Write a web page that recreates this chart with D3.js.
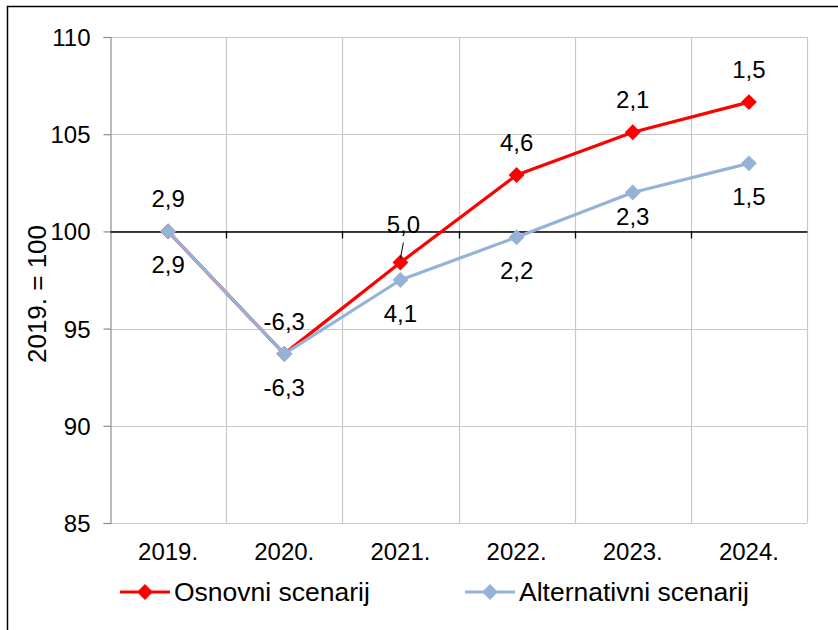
<!DOCTYPE html>
<html>
<head>
<meta charset="utf-8">
<script src="https://cdn.jsdelivr.net/npm/d3@7"></script>
<style>
  html, body { margin: 0; padding: 0; background: #fff; }
  svg { display: block; }
  text { font-family: "Liberation Sans", Arial, sans-serif; fill: #000; }
</style>
</head>
<body>
<svg id="chart" width="838" height="630"></svg>
<script>
const years = ["2019.", "2020.", "2021.", "2022.", "2023.", "2024."];
const osnovni = [100, 93.7, 98.4, 102.9, 105.1, 106.65];
const alternativni = [100, 93.7, 97.5, 99.7, 102.0, 103.5];
const osnovniLabels = ["2,9", "-6,3", "5,0", "4,6", "2,1", "1,5"];
const alternativniLabels = ["2,9", "-6,3", "4,1", "2,2", "2,3", "1,5"];
const yTicks = [85, 90, 95, 100, 105, 110];
const seriesNames = ["Osnovni scenarij", "Alternativni scenarij"];
const seriesColors = ["#ff0000", "#95b3d7"];

const svg = d3.select("#chart");
const pLeft = 110, pRight = 807, pTop = 37, pBottom = 523;

// outer frame
svg.append("rect").attr("x", 7.5).attr("y", 6.5).attr("width", 900).attr("height", 700)
  .attr("fill", "none").attr("stroke", "#000").attr("stroke-width", 1.5);

const x = d3.scaleBand().domain(years).range([pLeft, pRight]).padding(0);
const y = d3.scaleLinear().domain([85, 110]).range([pBottom, pTop]);

// horizontal gridlines
svg.append("g").selectAll("line").data(yTicks).join("line")
  .attr("x1", pLeft).attr("x2", pRight)
  .attr("y1", d => Math.round(y(d)) + 0.5).attr("y2", d => Math.round(y(d)) + 0.5)
  .attr("stroke", "#c8c8c8").attr("stroke-width", 1.2);

// vertical gridlines at category boundaries
svg.append("g").selectAll("line").data(years.slice(1)).join("line")
  .attr("x1", d => Math.round(x(d)) + 0.5).attr("x2", d => Math.round(x(d)) + 0.5)
  .attr("y1", pTop).attr("y2", pBottom)
  .attr("stroke", "#c8c8c8").attr("stroke-width", 1.2);

// right border
svg.append("line").attr("x1", pRight + 0.5).attr("x2", pRight + 0.5).attr("y1", pTop).attr("y2", pBottom)
  .attr("stroke", "#c8c8c8").attr("stroke-width", 1.2);

// y axis
const yAxis = d3.axisLeft(y).tickValues(yTicks).tickSize(7).tickPadding(13);
const gy = svg.append("g").attr("transform", `translate(${pLeft + 0.5},0)`).call(yAxis);
gy.select(".domain").attr("stroke", "#8c8c8c").attr("stroke-width", 1.2);
gy.selectAll(".tick line").attr("stroke", "#8c8c8c").attr("stroke-width", 1.2);
gy.selectAll(".tick text").attr("font-size", 24).attr("font-family", "Liberation Sans, Arial, sans-serif")
  .attr("fill", "#000").attr("dy", "0.35em");

// category axis crossing at 100
const xAxis = d3.axisBottom(x).tickSize(0).tickFormat("");
const gx = svg.append("g").attr("transform", `translate(0,${Math.round(y(100)) + 0.5})`).call(xAxis);
gx.select(".domain").attr("stroke", "#000").attr("stroke-width", 1.3);
// boundary ticks
svg.append("g").selectAll("line").data(years.slice(1)).join("line")
  .attr("x1", d => Math.round(x(d)) + 0.5).attr("x2", d => Math.round(x(d)) + 0.5)
  .attr("y1", y(100)).attr("y2", y(100) + 7)
  .attr("stroke", "#000").attr("stroke-width", 1.3);

// category labels at bottom
svg.append("g").selectAll("text").data(years).join("text")
  .attr("x", d => x(d) + x.bandwidth() / 2).attr("y", 560)
  .attr("text-anchor", "middle").attr("font-size", 24).text(d => d);

// y title
svg.append("text").attr("transform", "translate(46,294) rotate(-90)")
  .attr("text-anchor", "middle").attr("font-size", 26).text("2019. = 100");

const cx = d => x(d) + x.bandwidth() / 2;
const line = d3.line().x((d, i) => cx(years[i])).y(d => y(d));
const diamond = d3.symbol().type(d3.symbolDiamond2).size(160);

const allSeries = [osnovni, alternativni];
allSeries.forEach((vals, si) => {
  svg.append("path").datum(vals).attr("d", line)
    .attr("fill", "none").attr("stroke", seriesColors[si]).attr("stroke-width", 3.2)
    .attr("stroke-linejoin", "round");
  svg.append("g").selectAll("path").data(vals).join("path")
    .attr("d", diamond)
    .attr("transform", (d, i) => `translate(${cx(years[i])},${y(d)})`)
    .attr("fill", seriesColors[si]);
});

// data labels
svg.append("g").selectAll("text").data(osnovni).join("text")
  .attr("x", (d, i) => cx(years[i]) + (i === 2 ? 3 : 0))
  .attr("y", (d, i) => y(d) - (i === 2 ? 30 : 24))
  .attr("text-anchor", "middle").attr("font-size", 24)
  .text((d, i) => osnovniLabels[i]);
svg.append("g").selectAll("text").data(alternativni).join("text")
  .attr("x", (d, i) => cx(years[i]))
  .attr("y", (d, i) => y(d) + (i === 4 ? 32 : 42))
  .attr("text-anchor", "middle").attr("font-size", 24)
  .text((d, i) => alternativniLabels[i]);
// leader line for label 5,0
svg.append("line")
  .attr("x1", cx(years[2]) + 3).attr("y1", y(osnovni[2]) - 20)
  .attr("x2", cx(years[2])).attr("y2", y(osnovni[2]) - 4)
  .attr("stroke", "#000").attr("stroke-width", 1);

// legend
const legendX = [120, 465];
seriesNames.forEach((name, si) => {
  const g = svg.append("g").attr("transform", `translate(${legendX[si]},592)`);
  g.append("line").attr("x1", 0).attr("x2", 50).attr("y1", 0).attr("y2", 0)
    .attr("stroke", seriesColors[si]).attr("stroke-width", 3.2);
  g.append("path").attr("d", diamond).attr("transform", "translate(25,0)").attr("fill", seriesColors[si]);
  g.append("text").attr("x", 54).attr("y", 0).attr("dy", "0.35em")
    .attr("font-size", 26.5).text(name);
});
</script>
</body>
</html>
